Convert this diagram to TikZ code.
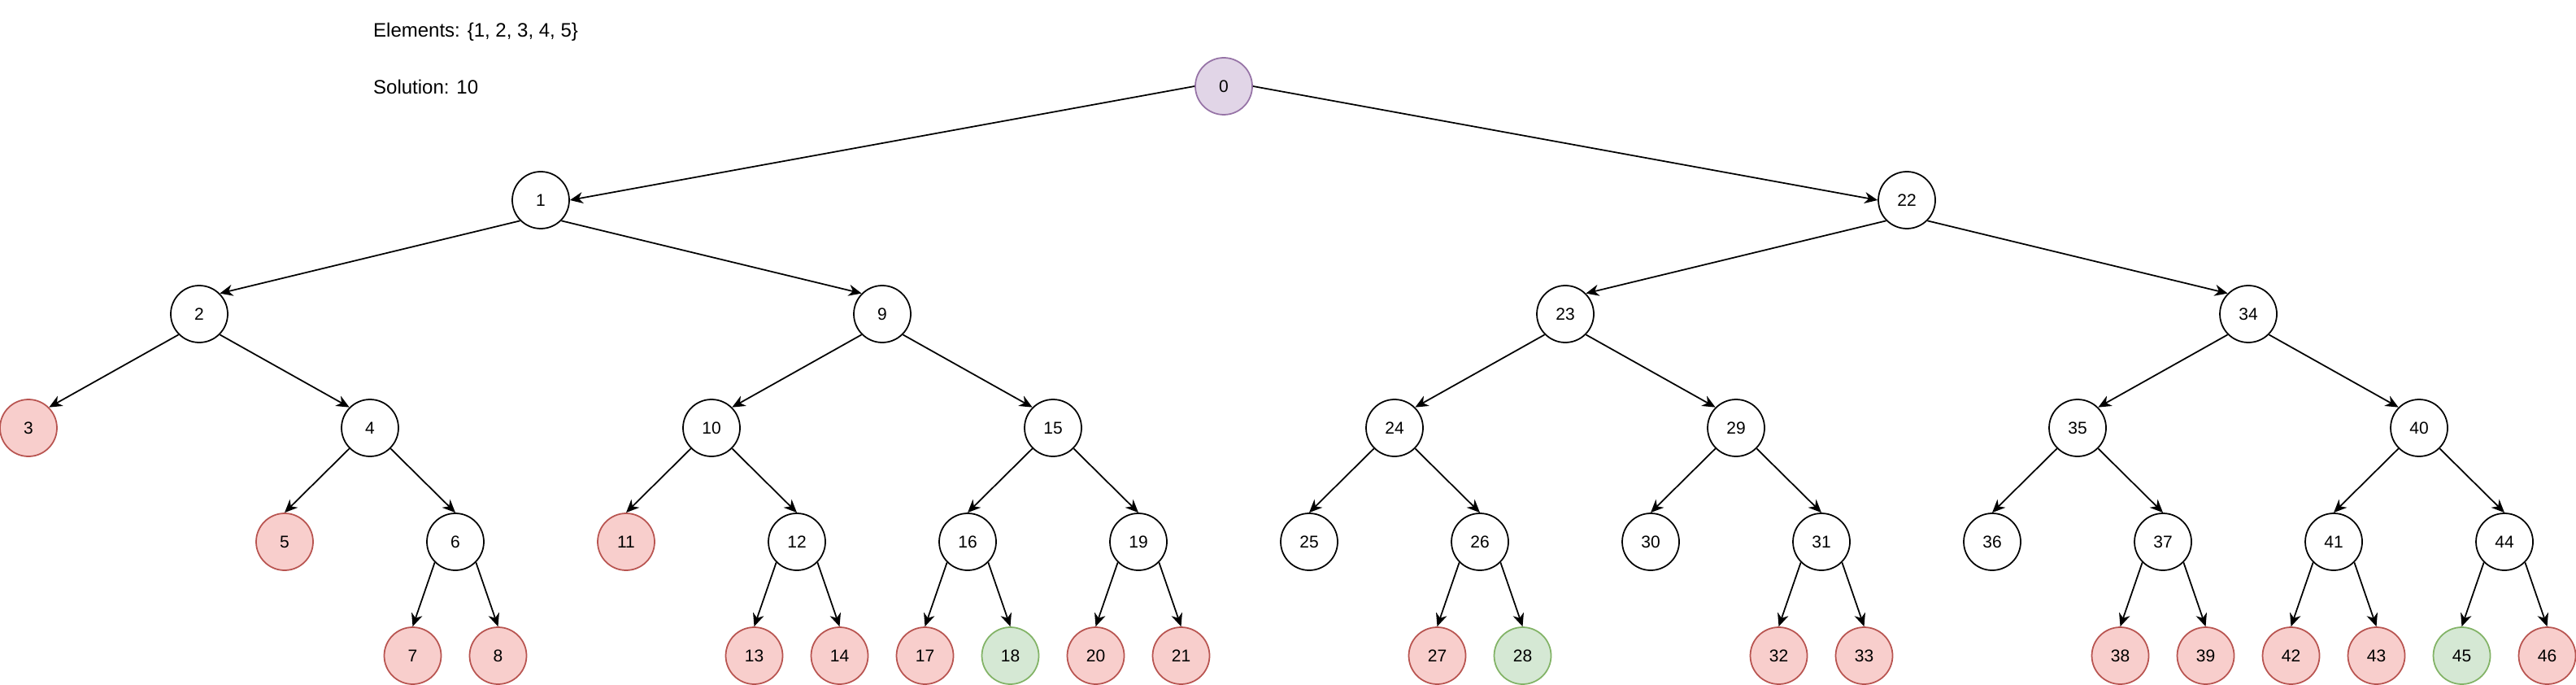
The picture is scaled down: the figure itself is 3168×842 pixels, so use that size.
\documentclass[tikz,border=0pt]{standalone}
\usepackage{fontspec}
\setmainfont{Liberation Sans}
\usetikzlibrary{arrows.meta}
\definecolor{redfill}{HTML}{F8CECC}
\definecolor{redline}{HTML}{B85450}
\definecolor{greenfill}{HTML}{D5E8D4}
\definecolor{greenline}{HTML}{82B366}
\definecolor{purplefill}{HTML}{E1D5E7}
\definecolor{purpleline}{HTML}{9673A6}
\tikzset{
  nd/.style={circle, draw=black, fill=white, line width=1.75pt, minimum size=70pt, inner sep=0pt,
    font=\fontsize{21}{25}\selectfont},
  rednd/.style={nd, draw=redline, fill=redfill},
  greennd/.style={nd, draw=greenline, fill=greenfill},
  purplend/.style={nd, draw=purpleline, fill=purplefill},
  edge/.style={-{Stealth[length=16pt,width=14pt,inset=5pt]}, line width=1.75pt, black},
  lbl/.style={anchor=west, inner sep=0pt, font=\fontsize{24}{28}\selectfont}
}
\begin{document}
\begin{tikzpicture}[x=1pt,y=-1pt]
\useasboundingbox (0,0) rectangle (3168,842);
% texts
\node[lbl] (elem) at (459,39) {Elements: \{1, 2, 3, 4, 5\}};
\node[lbl] (sol) at (459,107) {Solution: 10};
% level 0
\node[purplend] (n0) at (1505,106) {0};
% level 1
\node[nd] (n1) at (665,246) {1};
\node[nd] (n22) at (2345,246) {22};
% level 2
\node[nd] (n2) at (245,386) {2};
\node[nd] (n9) at (1085,386) {9};
\node[nd] (n23) at (1925,386) {23};
\node[nd] (n34) at (2765,386) {34};
% level 3
\node[rednd] (n3) at (35,526) {3};
\node[nd] (n4) at (455,526) {4};
\node[nd] (n10) at (875,526) {10};
\node[nd] (n15) at (1295,526) {15};
\node[nd] (n24) at (1715,526) {24};
\node[nd] (n29) at (2135,526) {29};
\node[nd] (n35) at (2555,526) {35};
\node[nd] (n40) at (2975,526) {40};
% level 4
\node[rednd] (n5) at (350,666) {5};
\node[nd] (n6) at (560,666) {6};
\node[rednd] (n11) at (770,666) {11};
\node[nd] (n12) at (980,666) {12};
\node[nd] (n16) at (1190,666) {16};
\node[nd] (n19) at (1400,666) {19};
\node[nd] (n25) at (1610,666) {25};
\node[nd] (n26) at (1820,666) {26};
\node[nd] (n30) at (2030,666) {30};
\node[nd] (n31) at (2240,666) {31};
\node[nd] (n36) at (2450,666) {36};
\node[nd] (n37) at (2660,666) {37};
\node[nd] (n41) at (2870,666) {41};
\node[nd] (n44) at (3080,666) {44};
% level 5
\node[rednd] (n7) at (507.5,806) {7};
\node[rednd] (n8) at (612.5,806) {8};
\node[rednd] (n13) at (927.5,806) {13};
\node[rednd] (n14) at (1032.5,806) {14};
\node[rednd] (n17) at (1137.5,806) {17};
\node[greennd] (n18) at (1242.5,806) {18};
\node[rednd] (n20) at (1347.5,806) {20};
\node[rednd] (n21) at (1452.5,806) {21};
\node[rednd] (n27) at (1767.5,806) {27};
\node[greennd] (n28) at (1872.5,806) {28};
\node[rednd] (n32) at (2187.5,806) {32};
\node[rednd] (n33) at (2292.5,806) {33};
\node[rednd] (n38) at (2607.5,806) {38};
\node[rednd] (n39) at (2712.5,806) {39};
\node[rednd] (n42) at (2817.5,806) {42};
\node[rednd] (n43) at (2922.5,806) {43};
\node[greennd] (n45) at (3027.5,806) {45};
\node[rednd] (n46) at (3132.5,806) {46};
% edges level 0->1
\draw[edge] (n0.west) -- (n1.east);
\draw[edge] (n0.east) -- (n22.west);
% edges levels 1->2 and 2->3
\foreach \p/\l/\r in {1/2/9, 22/23/34, 2/3/4, 9/10/15, 23/24/29, 34/35/40}{
  \draw[edge] (n\p.225) -- (n\l.45);
  \draw[edge] (n\p.315) -- (n\r.135);
}
% edges levels 3->4 and 4->5
\foreach \p/\l/\r in {4/5/6, 10/11/12, 15/16/19, 24/25/26, 29/30/31, 35/36/37, 40/41/44,
  6/7/8, 12/13/14, 16/17/18, 19/20/21, 26/27/28, 31/32/33, 37/38/39, 41/42/43, 44/45/46}{
  \draw[edge] (n\p.225) -- (n\l.north);
  \draw[edge] (n\p.315) -- (n\r.north);
}
\end{tikzpicture}
\end{document}
